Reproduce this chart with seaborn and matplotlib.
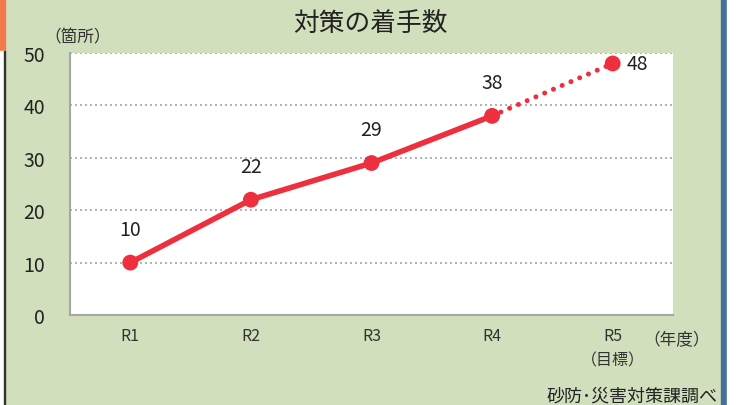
import matplotlib.pyplot as plt
import matplotlib.patches as mpatches
import seaborn as sns
import pandas as pd

years = ['R1', 'R2', 'R3', 'R4', 'R5']
tick_labels = ['R1', 'R2', 'R3', 'R4', 'R5\n（目標）']
counts = [10, 22, 29, 38, 48]

bg = '#d1dfbd'
red = '#ee2f3d'

sns.set_theme(style='white')
plt.rcParams['font.family'] = ['Noto Sans CJK JP', 'DejaVu Sans']

df = pd.DataFrame({'year': years, 'count': counts})
actual = df.iloc[:4]
target = df.iloc[3:]

fig = plt.figure(figsize=(7.37, 4.06), dpi=100, facecolor=bg)
ax = fig.add_axes([70 / 737, 90 / 406, 603 / 737, 262 / 406])
ax.set_facecolor('white')

sns.lineplot(data=actual, x='year', y='count', color=red, lw=4, ax=ax)
sns.lineplot(data=target, x='year', y='count', color=red, lw=3.6,
             linestyle=(0, (0.01, 1.9)), dash_capstyle='round', ax=ax)
sns.scatterplot(data=df, x='year', y='count', color=red, s=130,
                edgecolor='none', zorder=5, ax=ax)

for i, v in enumerate(counts):
    if i < 4:
        ax.annotate(str(v), (i, v), xytext=(0, 24), textcoords='offset points',
                    ha='center', va='center', fontsize=14, color='#222222')
    else:
        ax.annotate(str(v), (i, v), xytext=(10, 0), textcoords='offset points',
                    ha='left', va='center', fontsize=14, color='#222222')

ax.set_xlim(-0.5, 4.5)
ax.set_ylim(0, 50)
ax.set_yticks(range(0, 51, 10))
ax.set_xticks(range(5))
ax.set_xticklabels(tick_labels, fontsize=11.5, color='#333333', linespacing=1.5)
ax.set_xticks([i - 0.5 for i in range(6)], minor=True)
ax.tick_params(axis='x', which='major', length=0, pad=9)
ax.tick_params(axis='x', which='minor', length=5, width=1, color='#a6a6a6', direction='out')
ax.tick_params(axis='y', length=5, width=1, color='#a6a6a6', direction='out',
               pad=13, labelsize=14, labelcolor='#222222')
ax.grid(axis='y', linestyle=(0, (1.2, 1.8)), color='#a6a6a6', lw=1.2)
ax.set_axisbelow(True)
for s in ['top', 'right']:
    ax.spines[s].set_visible(False)
for s in ['left', 'bottom']:
    ax.spines[s].set_color('#a6a6a6')
    ax.spines[s].set_linewidth(1.5)
ax.set_xlabel('')
ax.set_ylabel('')

fig.text(370 / 737, 1 - 24 / 406, '対策の着手数', ha='center', va='center',
         fontsize=18.5, color='#222222')
fig.text(78 / 737, 1 - 38 / 406, '（箇所）', ha='center', va='center',
         fontsize=12, color='#333333')
fig.text(677 / 737, 1 - 341 / 406, '（年度）', ha='center', va='center',
         fontsize=12, color='#333333')
fig.text(718 / 737, 1 - 396 / 406, '砂防･災害対策課調べ', ha='right', va='center',
         fontsize=13, color='#222222')

# frame decorations
fig.patches.append(mpatches.Rectangle((0, 1 - 52 / 406), 5 / 737, 52 / 406,
                                      transform=fig.transFigure, color='#f07a4a'))
fig.patches.append(mpatches.Rectangle((0, 0), 4 / 737, 1 - 52 / 406,
                                      transform=fig.transFigure, color='white'))
fig.patches.append(mpatches.Rectangle((4 / 737, 0), 1.2 / 737, 1 - 52 / 406,
                                      transform=fig.transFigure, color='#333333'))
fig.patches.append(mpatches.Rectangle((721 / 737, 0), 6 / 737, 1,
                                      transform=fig.transFigure, color='#44709a'))
fig.patches.append(mpatches.Rectangle((727 / 737, 0), 10 / 737, 1,
                                      transform=fig.transFigure, color='white'))

fig.savefig('out.png', dpi=100, facecolor=bg)
